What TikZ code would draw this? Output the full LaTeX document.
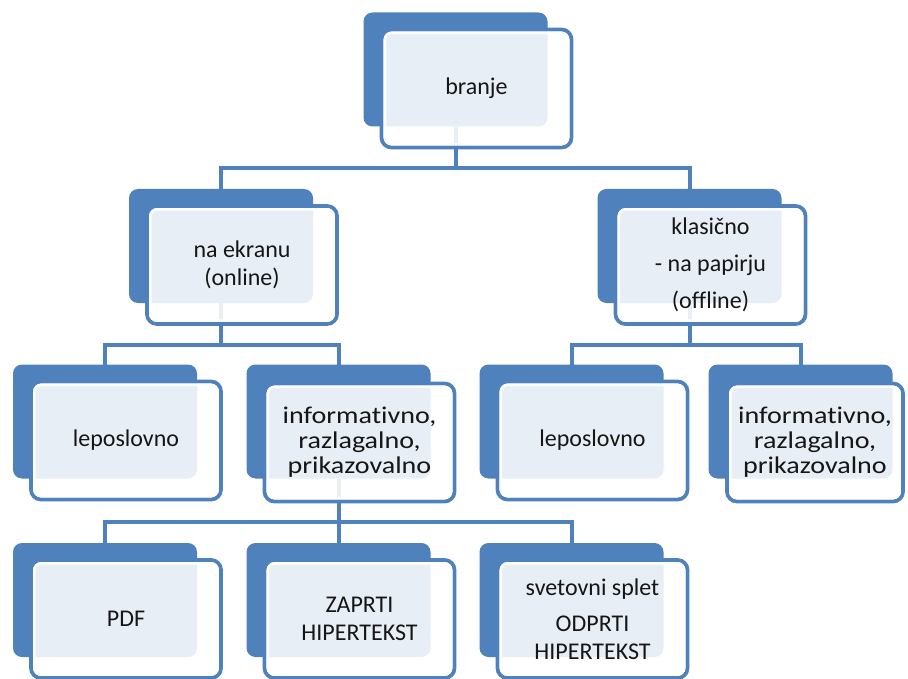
\documentclass[tikz,border=0pt]{standalone}
\usepackage{fontspec}
\setmainfont{Carlito}[Ligatures=NoCommon]
\newfontfamily\widefont{Carlito}[Ligatures=NoCommon, FakeStretch=1.17]
\definecolor{sablue}{HTML}{4F81BD}
\definecolor{txtgray}{HTML}{161616}
\begin{document}
\begin{tikzpicture}[x=1pt,y=-1pt,
  backbox/.style={fill=sablue, draw=none, rounded corners=9pt,
    minimum width=184pt, minimum height=114pt, inner sep=0pt, outer sep=0pt},
  frontbox/.style={fill=white, fill opacity=0.87, text opacity=1,
    draw=sablue, draw opacity=1, line width=3.8pt, rounded corners=10pt,
    minimum width=190pt, minimum height=118pt, inner sep=2pt,
    text=txtgray, align=center, font=\fontsize{24}{28}\selectfont},
  widetext/.style={font=\widefont\fontsize{24}{25}\selectfont},
  conn/.style={draw=sablue, line width=4pt, line join=miter},
  halo/.style={draw=white, line width=2.5pt, rounded corners=7pt}
]
\useasboundingbox (0,0) rectangle (908,679);
\clip (0,0) rectangle (908,679);
\fill[white] (0,0) rectangle (908,679);

% back rectangles
\node[backbox] (bA) at (455.5,69.5) {};
\node[backbox] (bB) at (221,246) {};
\node[backbox] (bC) at (689.5,246) {};
\node[backbox] (bD) at (105,421.5) {};
\node[backbox] (bE) at (338.5,421.5) {};
\node[backbox] (bF) at (571.5,421.5) {};
\node[backbox] (bG) at (800.5,421.5) {};
\node[backbox] (bH) at (105,600) {};
\node[backbox] (bI) at (338.5,600) {};
\node[backbox] (bJ) at (571.5,600) {};

% levels of the bus lines
\coordinate (y1) at (0,168);
\coordinate (y2) at (0,345);
\coordinate (y3) at (0,522);

% connectors
\draw[conn] (bA.south) -- (bA.south |- y1);
\draw[conn] (bB.north) |- (bC.north |- y1) -- (bC.north);
\draw[conn] (bB.south) -- (bB.south |- y2);
\draw[conn] (bD.north) |- (bE.north |- y2) -- (bE.north);
\draw[conn] (bC.south) -- (bC.south |- y2);
\draw[conn] (bF.north) |- (bG.north |- y2) -- (bG.north);
\draw[conn] (bE.south) -- (bI.north);
\draw[conn] (bH.north) |- (bJ.north |- y3) -- (bJ.north);

% front boxes
\node[frontbox] (fA) at ([shift={(21,19)}]bA.center) {branje};
\node[frontbox] (fB) at ([shift={(21,19)}]bB.center) {na ekranu\\(online)};
\node[frontbox] (fC) at ([shift={(21,19)}]bC.center) {klasično\\[9pt]- na papirju\\[9pt](offline)};
\node[frontbox] (fD) at ([shift={(21,19)}]bD.center) {leposlovno};
\node[frontbox, widetext] (fE) at ([shift={(21,21)}]bE.center) {informativno,\\razlagalno,\\prikazovalno};
\node[frontbox] (fF) at ([shift={(21,19)}]bF.center) {leposlovno};
\node[frontbox, widetext, minimum width=176pt] (fG) at ([shift={(14.5,21)}]bG.center) {informativno,\\razlagalno,\\prikazovalno};
\node[frontbox] (fH) at ([shift={(21,19)}]bH.center) {PDF};
\node[frontbox] (fI) at ([shift={(21,19)}]bI.center) {ZAPRTI\\HIPERTEKST};
\node[frontbox] (fJ) at ([shift={(21,19)}]bJ.center) {svetovni splet\\[8pt]ODPRTI\\HIPERTEKST};

% thin white inner rims
\foreach \f in {fA,fB,fC,fD,fE,fF,fG,fH,fI,fJ}{
  \draw[halo] ([shift={(5.2,5.2)}]\f.north west) rectangle ([shift={(-5.2,-5.2)}]\f.south east);
}
\end{tikzpicture}
\end{document}
